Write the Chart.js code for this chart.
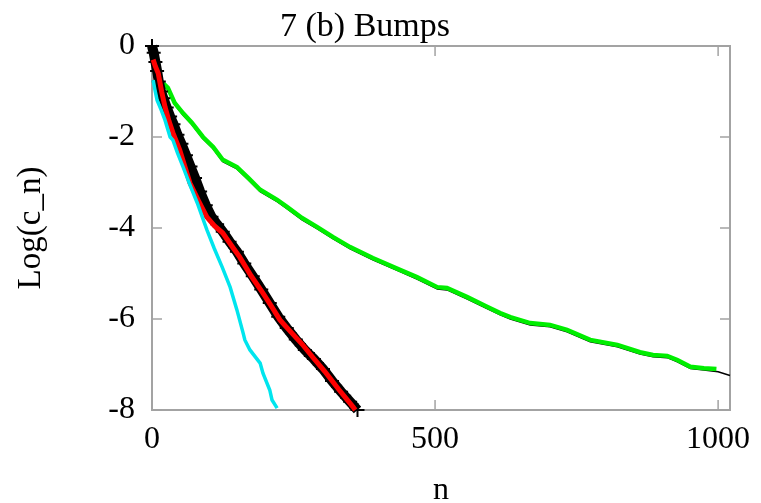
<!DOCTYPE html>
<html>
<head>
<meta charset="utf-8">
<script src="https://cdn.jsdelivr.net/npm/chart.js@4.4.1/dist/chart.umd.min.js"></script>
<style>
  html, body { margin: 0; padding: 0; background: #fff; }
  #c { display: block; }
</style>
</head>
<body>
<canvas id="c" width="761" height="503"></canvas>
<script>
// eksen degerleri
const xTicks = [0, 500, 1000];
const yTicks = [0, -2, -4, -6, -8];

// yesil egri (yavas azalan)
const greenN = [3, 14, 28, 40, 55, 70, 90, 108, 125, 150, 170, 191, 221, 239, 265, 292, 320, 350, 390, 438, 468, 504, 521, 557, 590, 615, 633, 668, 703, 733, 774, 822, 862, 885, 910, 928, 951, 975, 997];
const greenLog = [-0.35, -0.75, -0.92, -1.25, -1.48, -1.68, -2.0, -2.22, -2.5, -2.66, -2.9, -3.16, -3.38, -3.54, -3.78, -3.98, -4.2, -4.42, -4.66, -4.92, -5.08, -5.3, -5.32, -5.52, -5.72, -5.87, -5.96, -6.09, -6.13, -6.24, -6.46, -6.57, -6.73, -6.79, -6.81, -6.9, -7.05, -7.08, -7.1];

// yesilin altindaki ince siyah cizgi
const thinN = [0, 5, 14, 28, 40, 55, 70, 90, 108, 125, 150, 170, 191, 221, 239, 265, 292, 320, 350, 390, 438, 468, 504, 521, 557, 590, 615, 633, 668, 703, 733, 774, 822, 862, 885, 910, 928, 951, 975, 1000, 1021];
const thinLog = [0, -0.42, -0.79, -0.96, -1.29, -1.52, -1.72, -2.04, -2.26, -2.54, -2.7, -2.94, -3.2, -3.42, -3.58, -3.82, -4.02, -4.24, -4.46, -4.7, -4.96, -5.12, -5.34, -5.36, -5.56, -5.76, -5.91, -6.0, -6.13, -6.17, -6.28, -6.5, -6.61, -6.77, -6.83, -6.85, -6.94, -7.09, -7.12, -7.16, -7.24];

// kalin siyah (arti isaretli)
const blackN = [0, 3, 6, 9, 12, 16, 20, 26, 32, 38, 45, 52, 60, 68, 76, 85, 95, 105, 115, 125, 137, 150, 163, 178, 193, 208, 223, 238, 254, 270, 286, 302, 318, 334, 350, 363];
const blackLog = [0, -0.15, -0.35, -0.55, -0.78, -1.0, -1.15, -1.35, -1.55, -1.72, -1.95, -2.15, -2.4, -2.65, -2.9, -3.2, -3.5, -3.75, -3.92, -4.08, -4.3, -4.52, -4.78, -5.06, -5.35, -5.65, -5.95, -6.2, -6.45, -6.68, -6.88, -7.1, -7.36, -7.6, -7.82, -8.0];

// kirmizi
const redN = [2, 6, 11, 17, 23, 30, 37, 49, 58, 67, 82, 97, 110, 125, 140, 155, 175, 196, 210, 226, 250, 265, 284, 305, 330, 355, 359];
const redLog = [-0.3, -0.45, -0.6, -1.0, -1.34, -1.65, -1.91, -2.29, -2.65, -3.01, -3.4, -3.76, -3.95, -4.11, -4.38, -4.64, -5.05, -5.43, -5.7, -6.02, -6.35, -6.55, -6.84, -7.15, -7.55, -7.93, -8.0];

// camgobegi (en hizli azalan)
const cyanN = [2, 5, 9, 16, 23, 32, 37, 45, 55, 67, 80, 90, 97, 110, 124, 138, 150, 161, 164, 173, 191, 196, 208, 212, 221];
const cyanLog = [-0.75, -0.95, -1.19, -1.4, -1.63, -2.0, -2.07, -2.35, -2.66, -3.05, -3.45, -3.8, -4.04, -4.45, -4.86, -5.3, -5.8, -6.31, -6.46, -6.68, -6.97, -7.19, -7.56, -7.78, -7.96];

const pts = (xs, ys) => xs.map((x, i) => ({ x: x, y: ys[i] }));

const SERIF = "'Liberation Serif', 'Times New Roman', serif";
const AXIS_GRAY = '#a3a3a3';

// cerceve ve ice bakan tik cizgileri
const framePlugin = {
  id: 'frame',
  beforeDatasetsDraw(chart) {
    const { ctx, chartArea: a, scales } = chart;
    const tl = 10;
    ctx.save();
    ctx.strokeStyle = AXIS_GRAY;
    ctx.lineWidth = 2;
    ctx.strokeRect(a.left, a.top, a.right - a.left, a.bottom - a.top);
    ctx.lineWidth = 1.5;
    ctx.beginPath();
    xTicks.forEach(v => {
      const px = scales.x.getPixelForValue(v);
      ctx.moveTo(px, a.bottom); ctx.lineTo(px, a.bottom - tl);
      ctx.moveTo(px, a.top); ctx.lineTo(px, a.top + tl);
    });
    yTicks.forEach(v => {
      const py = scales.y.getPixelForValue(v);
      ctx.moveTo(a.left, py); ctx.lineTo(a.left + tl, py);
      ctx.moveTo(a.right, py); ctx.lineTo(a.right - tl, py);
    });
    ctx.stroke();
    ctx.restore();
  }
};

new Chart(document.getElementById('c'), {
  type: 'line',
  data: {
    datasets: [
      {
        label: 'cyan',
        data: pts(cyanN, cyanLog),
        borderColor: '#00e5ee',
        borderWidth: 3.5,
        pointRadius: 0,
        order: 1,
      },
      {
        label: 'red',
        data: pts(redN, redLog),
        borderColor: '#ff0000',
        borderWidth: 5,
        pointRadius: 0,
        order: 2,
      },
      {
        label: 'black',
        data: pts(blackN, blackLog),
        borderColor: '#000000',
        borderWidth: 10,
        pointStyle: 'cross',
        pointRadius: 7,
        pointBorderWidth: 2,
        pointBorderColor: '#000000',
        pointBackgroundColor: '#000000',
        order: 3,
      },
      {
        label: 'green',
        data: pts(greenN, greenLog),
        borderColor: '#00ee00',
        borderWidth: 4.5,
        pointRadius: 0,
        order: 4,
      },
      {
        label: 'thin',
        data: pts(thinN, thinLog),
        borderColor: '#000000',
        borderWidth: 1.5,
        pointRadius: 0,
        order: 5,
      },
    ]
  },
  options: {
    responsive: false,
    animation: false,
    events: [],
    clip: false,
    layout: { padding: { left: 0, right: 31, top: 0, bottom: 0 } },
    plugins: {
      legend: { display: false },
      tooltip: { enabled: false },
      title: {
        display: true,
        text: '7 (b) Bumps',
        color: '#000',
        font: { family: SERIF, size: 34, weight: 'normal', lineHeight: 1 },
        padding: { top: 10, bottom: 2 },
      },
    },
    scales: {
      x: {
        type: 'linear',
        min: 0,
        max: 1021,
        afterBuildTicks: s => { s.ticks = xTicks.map(v => ({ value: v })); },
        afterFit: s => { s.height = 93; s.paddingLeft = 0; s.paddingRight = 0; },
        grid: { display: false },
        border: { display: false },
        ticks: {
          color: '#000',
          padding: 2,
          maxRotation: 0,
          font: { family: SERIF, size: 32 },
          callback: v => String(v),
        },
        title: {
          display: true,
          text: 'n',
          color: '#000',
          padding: 0,
          font: { family: SERIF, size: 32, lineHeight: 0.8 },
        },
      },
      y: {
        type: 'linear',
        min: -8,
        max: 0,
        afterBuildTicks: s => { s.ticks = yTicks.map(v => ({ value: v })); },
        afterFit: s => { s.width = 152; s.paddingTop = 0; s.paddingBottom = 0; },
        grid: { display: false },
        border: { display: false },
        ticks: {
          color: '#000',
          padding: 9,
          font: { family: SERIF, size: 32 },
          callback: v => String(v),
        },
        title: {
          display: true,
          text: 'Log(c_n)',
          color: '#000',
          padding: { top: 15 },
          font: { family: SERIF, size: 33, lineHeight: 1 },
        },
      },
    },
  },
  plugins: [framePlugin],
});
</script>
</body>
</html>
